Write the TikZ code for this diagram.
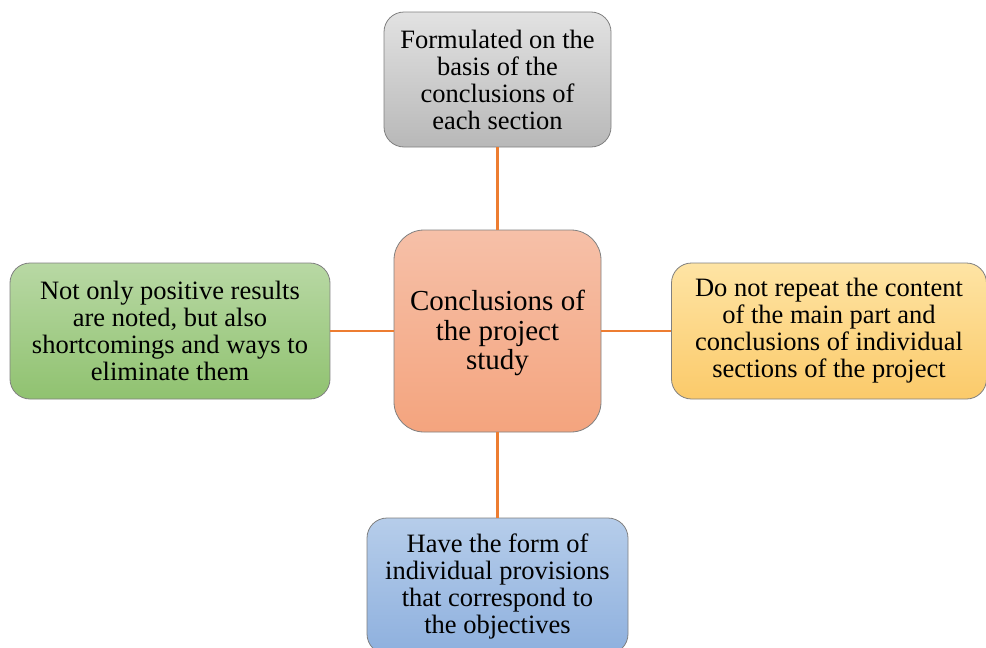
\documentclass[tikz,border=0pt]{standalone}
\usepackage{fontspec}
\setmainfont{Liberation Serif}
\begin{document}
\begin{tikzpicture}[x=1pt,y=-1pt,
  box/.style={draw=black!50, line width=0.8pt, rounded corners=20pt, align=center, inner sep=0pt,
    font=\fontsize{26.5}{27}\selectfont, text=black},
  link/.style={line width=2.4pt, draw=lnk}]
\definecolor{grayT}{RGB}{226,226,226}\definecolor{grayB}{RGB}{184,184,184}
\definecolor{cenT}{RGB}{246,192,168}\definecolor{cenB}{RGB}{244,164,126}
\definecolor{grnT}{RGB}{184,216,164}\definecolor{grnB}{RGB}{144,194,112}
\definecolor{orgT}{RGB}{254,228,164}\definecolor{orgB}{RGB}{251,202,106}
\definecolor{bluT}{RGB}{182,205,234}\definecolor{bluB}{RGB}{142,176,222}
\definecolor{lnk}{RGB}{237,125,49}
\clip (0,0) rectangle (986,648);
\useasboundingbox (0,0) rectangle (986,648);
\node[box, top color=grayT, bottom color=grayB, minimum width=227pt, minimum height=135pt] (t) at (497.5,79.5)
  {Formulated on the\\basis of the\\conclusions of\\each section};
\node[box, rounded corners=30pt, top color=cenT, bottom color=cenB, minimum width=207pt, minimum height=202pt,
  font=\fontsize{29}{29.5}\selectfont] (c) at (497.5,331)
  {\rule{0pt}{25pt}Conclusions of\\the project\\study};
\node[box, top color=grnT, bottom color=grnB, minimum width=320pt, minimum height=136pt] (l) at (170,331)
  {Not only positive results\\are noted, but also\\shortcomings and ways to\\eliminate them};
\node[box, top color=orgT, bottom color=orgB, minimum width=315pt, minimum height=136pt] (r) at (829,331)
  {Do not repeat the content\\of the main part and\\conclusions of individual\\sections of the project};
\node[box, top color=bluT, bottom color=bluB, minimum width=261pt, minimum height=136pt] (b) at (497.5,586)
  {Have the form of\\individual provisions\\that correspond to\\the objectives};
\draw[link] (c) -- (t);
\draw[link] (c) -- (l);
\draw[link] (c) -- (r);
\draw[link] (c) -- (b);
\end{tikzpicture}
\end{document}
